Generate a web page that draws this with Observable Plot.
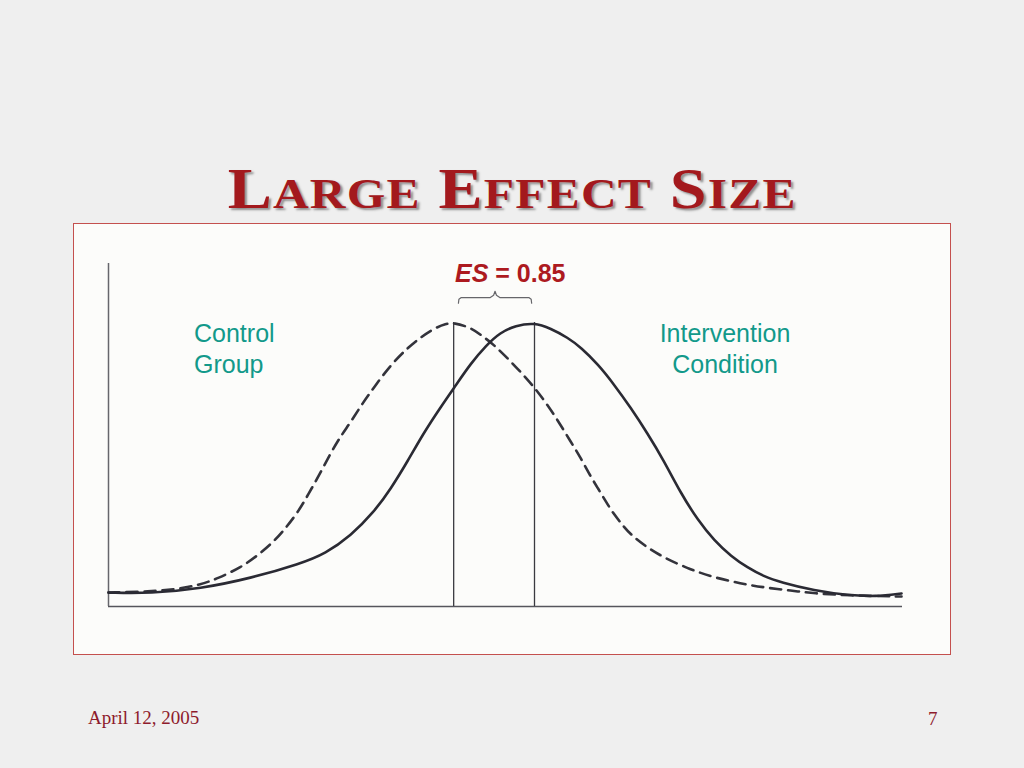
<!DOCTYPE html>
<html>
<head>
<meta charset="utf-8">
<script src="https://cdn.jsdelivr.net/npm/d3@7"></script>
<script src="https://cdn.jsdelivr.net/npm/@observablehq/plot@0.6"></script>
<style>
  html, body { margin: 0; padding: 0; }
  body { width: 1024px; height: 768px; background: #efefef; position: relative; overflow: hidden; font-family: "Liberation Sans", Arial, sans-serif; }
  #title { position: absolute; left: 0; top: 161px; width: 1024px; text-align: center; font-family: "Liberation Serif", serif; font-weight: bold; font-size: 56px; line-height: 57px; color: #a3191d; text-shadow: 2px 2px 2px #8f8f8f; white-space: nowrap; }
  #titleInner { display: inline-block; transform-origin: 50% 50%; letter-spacing: 1px; }
  #titleInner .big { font-size: 56px; }
  #titleInner .sm { font-size: 42px; }
  #panel { position: absolute; left: 73px; top: 223px; width: 876px; height: 430px; background: #fcfcfa; border: 1px solid #c4504e; }
  #chart { position: absolute; left: 0; top: 0; }
  .lab { position: absolute; color: #12998a; font-size: 25px; line-height: 31px; white-space: nowrap; }
  #es { position: absolute; color: #ad1a1f; font-weight: bold; font-size: 25px; line-height: 30px; white-space: nowrap; }
  .foot { position: absolute; font-family: "Liberation Serif", serif; font-size: 19px; line-height: 19px; color: #8e1b2c; white-space: nowrap; }
</style>
</head>
<body>
<div id="title"><span id="titleInner"></span></div>
<div id="panel"><div id="chart"></div></div>
<div class="lab" id="labControl" style="left:194px; top:318px;"></div>
<div class="lab" id="labInterv" style="left:625px; top:318px; width:200px; text-align:center;"></div>
<div id="es" style="left:455px; top:258px;"></div>
<div class="foot" id="date" style="left:88px; top:708px;"></div>
<div class="foot" id="page" style="left:928px; top:709px;"></div>
<script>
// ---- text ----
const titleText = "Large Effect Size";
const controlLabel = ["Control", "Group"];
const interventionLabel = ["Intervention", "Condition"];
const esLabel = "0.85";
const dateText = "April 12, 2005";
const pageText = "7";

// ---- data (x in SD units relative to control mean, y = relative density) ----
const controlX = [-3.63, -3.19, -2.93, -2.66, -2.48, -2.24, -2.06, -1.89, -1.77, -1.64, -1.53, -1.40, -1.29, -1.19, -1.08, -0.96, -0.84, -0.66, -0.48, -0.35, -0.21, -0.08, 0,
  0.18, 0.28, 0.42, 0.57, 0.71, 0.84, 0.97, 1.09, 1.23, 1.34, 1.44, 1.52, 1.60, 1.68, 1.78, 1.86, 2.02, 2.21, 2.49, 2.74, 3.02, 3.26, 3.55, 3.79, 4.15, 4.71];
const controlY = [0.049, 0.053, 0.060, 0.077, 0.099, 0.137, 0.180, 0.229, 0.275, 0.331, 0.394, 0.472, 0.542, 0.599, 0.651, 0.715, 0.771, 0.852, 0.912, 0.947, 0.979, 0.996, 1.0,
  0.982, 0.958, 0.923, 0.873, 0.824, 0.775, 0.718, 0.658, 0.581, 0.521, 0.458, 0.415, 0.370, 0.327, 0.285, 0.254, 0.211, 0.172, 0.130, 0.102, 0.081, 0.067, 0.056, 0.046, 0.039, 0.035];
const interventionX = [-3.63, -3.19, -2.66, -2.14, -1.61, -1.35, -1.08, -0.84, -0.66, -0.48, -0.32, -0.14, 0.02, 0.18, 0.34, 0.49, 0.65, 0.85,
  1.02, 1.20, 1.34, 1.52, 1.68, 1.86, 2.04, 2.21, 2.39, 2.57, 2.74, 2.92, 3.09, 3.26, 3.44, 3.79, 4.15, 4.44, 4.71];
const interventionY = [0.049, 0.046, 0.063, 0.099, 0.151, 0.186, 0.250, 0.332, 0.415, 0.514, 0.609, 0.701, 0.778, 0.856, 0.919, 0.965, 0.989, 1.0,
  0.979, 0.947, 0.912, 0.852, 0.785, 0.701, 0.609, 0.514, 0.398, 0.303, 0.232, 0.176, 0.137, 0.106, 0.085, 0.056, 0.039, 0.035, 0.046];
const groupMeans = [0, 0.85];
const groupPeaks = [1.0, 1.0];

const xDomain = [-3.63, 4.72];
const yDomain = [0, 1.208];
const braceLevel = 1.088;

// ---- build tables ----
const control = controlX.map((x, i) => ({x, y: controlY[i]}));
const intervention = interventionX.map((x, i) => ({x, y: interventionY[i]}));
const means = groupMeans.map((x, i) => ({x, top: groupPeaks[i]}));

const a = groupMeans[0] + 0.05, b = groupMeans[1] - 0.03, mid = (a + b) / 2;
const brace = [
  [a, braceLevel - 0.02], [a + 0.005, braceLevel - 0.006], [a + 0.03, braceLevel],
  [mid - 0.05, braceLevel], [mid - 0.015, braceLevel + 0.008], [mid, braceLevel + 0.022],
  [mid + 0.015, braceLevel + 0.008], [mid + 0.05, braceLevel],
  [b - 0.03, braceLevel], [b - 0.005, braceLevel - 0.006], [b, braceLevel - 0.02]
].map(([x, y]) => ({x, y}));

const chart = Plot.plot({
  width: 876,
  height: 430,
  marginLeft: 34,
  marginRight: 48,
  marginTop: 39,
  marginBottom: 48,
  x: {domain: xDomain, axis: null},
  y: {domain: yDomain, axis: null},
  style: {background: "transparent", overflow: "visible"},
  marks: [
    Plot.ruleY([0], {stroke: "#55555c", strokeWidth: 1.6}),
    Plot.ruleX([xDomain[0]], {stroke: "#66666c", strokeWidth: 1.5}),
    Plot.ruleX(means, {x: "x", y1: 0, y2: "top", stroke: "#3a3a40", strokeWidth: 1.3}),
    Plot.line(brace, {x: "x", y: "y", stroke: "#66666a", strokeWidth: 1.2}),
    Plot.line(control, {x: "x", y: "y", curve: "basis", stroke: "#33333b", strokeWidth: 2.6, strokeDasharray: "11,7"}),
    Plot.line(intervention, {x: "x", y: "y", curve: "basis", stroke: "#2a2a33", strokeWidth: 2.6})
  ]
});
document.getElementById("chart").appendChild(chart);

// title in small caps, built from spans and fitted to the reference width
const inner = document.getElementById("titleInner");
inner.innerHTML = titleText.split(" ").map(w =>
  `<span class="big">${w[0].toUpperCase()}</span><span class="sm">${w.slice(1).toUpperCase()}</span>`
).join(" ");
const tw = inner.getBoundingClientRect().width;
inner.style.transform = `scaleX(${569 / tw})`;

document.getElementById("labControl").innerHTML = controlLabel.join("<br>");
document.getElementById("labInterv").innerHTML = interventionLabel.join("<br>");
document.getElementById("es").innerHTML = "<i>ES</i> = " + esLabel;
document.getElementById("date").textContent = dateText;
document.getElementById("page").textContent = pageText;
</script>
</body>
</html>
